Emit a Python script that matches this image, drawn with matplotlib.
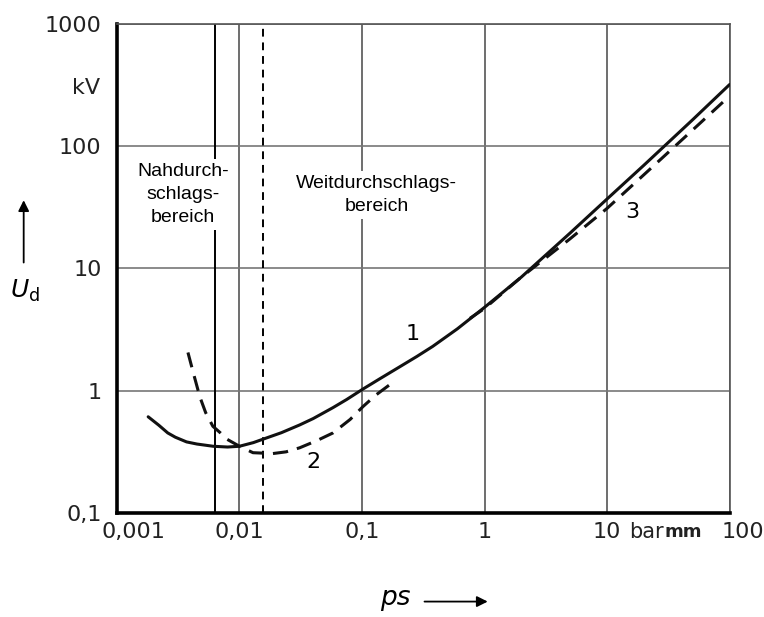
import matplotlib
matplotlib.use("Agg")
import matplotlib.pyplot as plt
from matplotlib.patches import FancyArrowPatch
from matplotlib.transforms import ScaledTranslation

# Curve 1 (solid)
x1 = [0.0018, 0.0022, 0.0026, 0.003, 0.0037, 0.0045, 0.0061, 0.008, 0.01, 0.013, 0.0167, 0.022, 0.031, 0.04,
      0.058, 0.075, 0.102, 0.14, 0.2, 0.28, 0.378, 0.6, 1.0, 2.0, 5.0, 10.0, 20.0, 50.0, 100.0]
y1 = [0.61, 0.52, 0.45, 0.415, 0.38, 0.365, 0.35, 0.345, 0.35, 0.375, 0.41, 0.452, 0.523, 0.59,
      0.725, 0.845, 1.03, 1.25, 1.55, 1.9, 2.3, 3.2, 4.8, 8.5, 19.5, 37.0, 70.0, 165.0, 320.0]
# Curve 2 (dashed, low pressure)
x2 = [0.0038, 0.0042, 0.00475, 0.0053, 0.00607, 0.007, 0.0079, 0.01, 0.0129, 0.0187, 0.024, 0.031, 0.043,
      0.058, 0.08, 0.102, 0.13, 0.169]
y2 = [2.05, 1.4, 0.89, 0.66, 0.51, 0.45, 0.40, 0.35, 0.31, 0.305, 0.315, 0.34, 0.39,
      0.45, 0.58, 0.74, 0.92, 1.12]
# Curve 3 (dashed, high pressure)
x3 = [0.76, 1.0, 2.0, 5.0, 10.0, 20.0, 50.0, 100.0]
y3 = [3.9, 4.7, 8.5, 17.5, 31.0, 58.5, 136.0, 258.0]

xticks = [0.001, 0.01, 0.1, 1, 10, 100]
xticklabels = ["0,001", "0,01", "0,1", "1", "10", "100"]
yticks = [0.1, 1, 10, 100, 1000]
yticklabels = ["0,1", "1", "10", "100", "1000"]
boundary_near = 0.0063
boundary_far = 0.0155

fig = plt.figure(figsize=(7.64, 6.17), dpi=100)
ax = fig.add_axes([0.153, 0.169, 0.802, 0.792])
ax.set_xscale("log")
ax.set_yscale("log")
ax.set_xlim(0.001, 100)
ax.set_ylim(0.1, 1000)

for t in xticks[1:]:
    ax.axvline(t, color="#555555", lw=1.2, zorder=1)
for t in yticks[1:]:
    ax.axhline(t, color="#777777", lw=1.2, zorder=1)

ax.axvline(boundary_near, color="black", lw=1.4, zorder=1)
ax.axvline(boundary_far, color="black", lw=1.4, ls=(0, (4, 3)), zorder=1)

ax.plot(x1, y1, color="#111111", lw=2.2, solid_capstyle="round", solid_joinstyle="round", zorder=3)
ax.plot(x2, y2, color="#111111", lw=2.2, ls=(0, (5, 3)), zorder=3)
ax.plot(x3, y3, color="#111111", lw=2.2, ls=(0, (5, 3)), zorder=3)

ax.set_xticks(xticks)
ax.set_xticklabels(xticklabels)
ax.set_yticks(yticks)
ax.set_yticklabels(yticklabels)
ax.minorticks_off()
ax.tick_params(length=0, labelsize=16, colors="#222222")
ax.tick_params(axis="y", pad=11)
ax.tick_params(axis="x", pad=7)
xl = ax.get_xticklabels()
xl[0].set_transform(xl[0].get_transform() + ScaledTranslation(0.17, 0, fig.dpi_scale_trans))
xl[-1].set_transform(xl[-1].get_transform() + ScaledTranslation(0.13, 0, fig.dpi_scale_trans))

for s in ["left", "bottom"]:
    ax.spines[s].set_linewidth(2.6)
for s in ["top", "right"]:
    ax.spines[s].set_linewidth(1.2)
    ax.spines[s].set_color("#555555")

# unit texts
fig.text(0.131, 0.857, "kV", fontsize=16, ha="right", va="center", color="#222222")
fig.text(0.823, 0.137, "bar", fontsize=15, ha="left", va="center", color="#222222")
fig.text(0.870, 0.137, "mm", fontsize=13, ha="left", va="center", fontweight="bold", color="#222222")

boxkw = dict(facecolor="white", edgecolor="none", pad=3)
ax.text(0.00345, 40, "Nahdurch-\nschlags-\nbereich", fontsize=14, family="Liberation Sans",
        ha="center", va="center", linespacing=1.45, bbox=boxkw, zorder=2)
ax.text(0.132, 40, "Weitdurchschlags-\nbereich", fontsize=14, family="Liberation Sans",
        ha="center", va="center", linespacing=1.45, bbox=boxkw, zorder=2)

ax.text(0.26, 2.9, "1", fontsize=16, ha="center", va="center")
ax.text(0.040, 0.26, "2", fontsize=16, ha="center", va="center")
ax.text(16, 29, "3", fontsize=16, ha="center", va="center")

# y label with arrow
fig.text(0.033, 0.528, r"$U_{\rm d}$", fontsize=18, ha="center", va="center")
fig.patches.append(FancyArrowPatch((0.031, 0.570), (0.031, 0.680), transform=fig.transFigure,
                                   arrowstyle="-|>", mutation_scale=16, color="black", lw=1.3))
# x label with arrow
fig.text(0.518, 0.030, "ps", fontsize=19, ha="center", va="center", fontstyle="italic")
fig.patches.append(FancyArrowPatch((0.552, 0.025), (0.642, 0.025), transform=fig.transFigure,
                                   arrowstyle="-|>", mutation_scale=16, color="black", lw=1.3))

fig.savefig("out.png", dpi=100)
